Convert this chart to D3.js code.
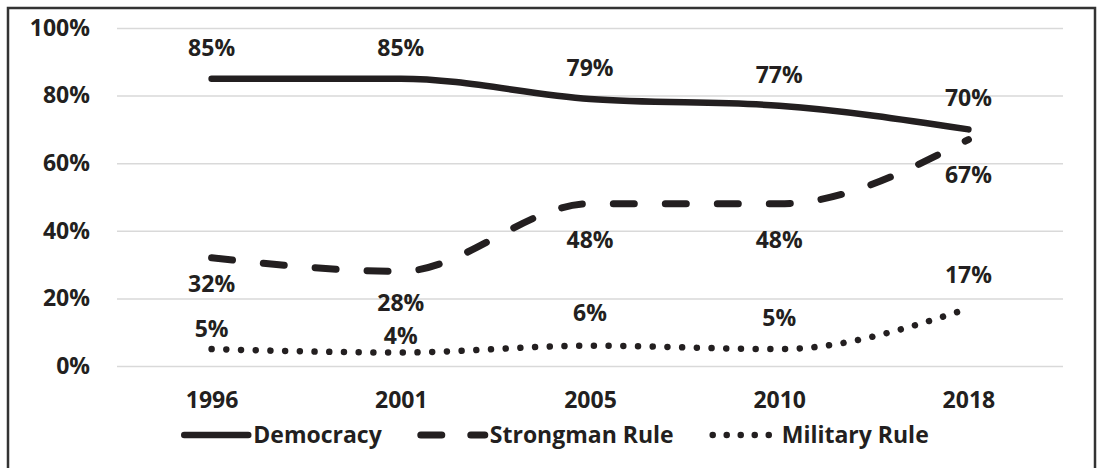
<!DOCTYPE html>
<html>
<head>
<meta charset="utf-8">
<script src="https://cdn.jsdelivr.net/npm/d3@7"></script>
<style>
  body { margin: 0; background: #fff; }
  text { font-family: "Open Sans", sans-serif; font-weight: bold; fill: #231f20; }
</style>
</head>
<body>
<svg id="chart" width="1097" height="468"></svg>
<script>
// values
var years = ['1996', '2001', '2005', '2010', '2018'];
var democracy = [85, 85, 79, 77, 70];
var strongman = [32, 28, 48, 48, 67];
var military = [5, 4, 6, 5, 17];
var yTicks = [0, 20, 40, 60, 80, 100];
var seriesNames = ['Democracy', 'Strongman Rule', 'Military Rule'];

// label nudges (px, centre of label from the point), like excel placed them
var labelShift = [
  [-31, -31, -31, -31, -32],
  [26, 31, 36, 36, 35],
  [-20, -17, -33, -31, -34]
];

var svg = d3.select('#chart'),
  width = +svg.attr('width'),
  height = +svg.attr('height');

var plotL = 117, plotR = 1063, plotT = 28, plotB = 366;
var ink = '#231f20', fs = 23;

svg.append('rect').attr('width', width).attr('height', height).attr('fill', 'white');
// outer frame (bottom edge falls off the picture)
svg.append('rect')
  .attr('x', 8).attr('y', 8).attr('width', 1087).attr('height', 480)
  .attr('fill', 'none').attr('stroke', '#333').attr('stroke-width', 2.5);

var x = d3.scalePoint().domain(years).range([plotL, plotR]).padding(0.5);
var y = d3.scaleLinear().domain([0, 100]).range([plotB, plotT]);

var yAxis = svg.append('g').attr('transform', 'translate(' + plotL + ',0)')
  .call(d3.axisLeft(y).tickValues(yTicks).tickSize(-(plotR - plotL)).tickPadding(27)
    .tickFormat(d => d + '%'));
yAxis.select('.domain').remove();
yAxis.selectAll('line').attr('stroke', '#d9d9d9').attr('stroke-width', 1.5);
yAxis.selectAll('text').attr('font-size', fs).attr('fill', ink).attr('font-family', null);

var xAxis = svg.append('g').attr('transform', 'translate(0,' + plotB + ')')
  .call(d3.axisBottom(x).tickSize(0).tickPadding(26));
xAxis.select('.domain').remove();
xAxis.selectAll('text').attr('font-size', fs).attr('fill', ink).attr('font-family', null);

var styles = [
  { w: 6.5, dash: null, legDash: null },
  { w: 7, dash: '21,31', legDash: '21,29' },
  { w: 6.5, dash: '0.01,14.7', legDash: '0.01,14' }
];

var line = d3.line()
  .x((d, i) => x(years[i]))
  .y(d => y(d))
  .curve(d3.curveMonotoneX);

[democracy, strongman, military].forEach(function (vals, s) {
  svg.append('path')
    .datum(vals)
    .attr('d', line)
    .attr('fill', 'none')
    .attr('stroke', ink)
    .attr('stroke-width', styles[s].w)
    .attr('stroke-linecap', 'round')
    .attr('stroke-dasharray', styles[s].dash);

  svg.append('g').selectAll('text')
    .data(vals)
    .enter().append('text')
    .attr('x', (d, i) => x(years[i]))
    .attr('y', (d, i) => y(d) + labelShift[s][i])
    .attr('dy', '0.36em')
    .attr('text-anchor', 'middle')
    .attr('font-size', fs)
    .text(d => d + '%');
});

// legend, centred on the frame
var legend = svg.append('g');
var legY = 435, sample = 70, gapAfter = 36;
var cursor = 0;
seriesNames.forEach(function (name, s) {
  var item = legend.append('g').attr('transform', 'translate(' + cursor + ',0)');
  item.append('line')
    .attr('x1', 3).attr('x2', sample - 3)
    .attr('y1', legY).attr('y2', legY)
    .attr('stroke', ink)
    .attr('stroke-width', styles[s].w)
    .attr('stroke-linecap', 'round')
    .attr('stroke-dasharray', styles[s].legDash);
  var t = item.append('text')
    .attr('x', sample + 2).attr('y', legY).attr('dy', '0.36em')
    .attr('font-size', fs)
    .text(name);
  cursor += sample + 2 + t.node().getComputedTextLength() + gapAfter;
});
var legW = cursor - gapAfter;
legend.attr('transform', 'translate(' + (555 - legW / 2) + ',0)');
</script>
</body>
</html>
